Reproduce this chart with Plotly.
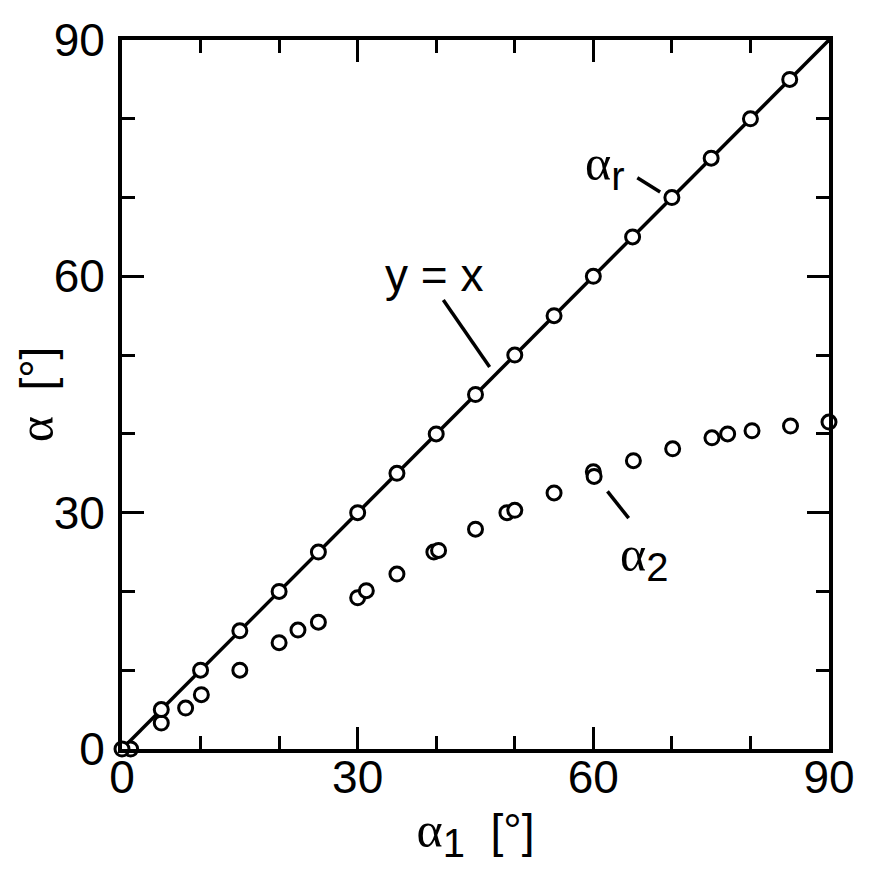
import plotly.graph_objects as go

# data
ar_x = [0, 5, 10, 15, 20, 25, 30, 35, 40, 45, 50, 55, 60, 65, 70, 75, 80, 85]
ar_y = [0, 5, 10, 15, 20, 25, 30, 35, 40, 45, 50, 55, 60, 65, 70, 75, 80, 85]
a2_x = [1.1, 5, 8.1, 10.1, 15, 20, 22.4, 25, 30, 31.1, 35, 39.7, 40.3, 45, 49, 50, 55, 60, 60.1, 65.1, 70.1, 75.1, 77.1, 80.2, 85.1, 90]
a2_y = [0, 3.3, 5.2, 6.9, 10, 13.5, 15.1, 16.1, 19.2, 20.1, 22.2, 25.0, 25.2, 27.9, 30.0, 30.3, 32.5, 35.2, 34.6, 36.6, 38.1, 39.5, 40.0, 40.4, 41.0, 41.5]
line_x = [0, 90]
line_y = [0, 90]
ticks = [0, 30, 60, 90]

SANS = "Liberation Sans, Arial, Helvetica"
SERIF = "Liberation Serif, Times New Roman"
FS = 46
A = f'<span style="font-family:{SERIF};font-size:50px">α</span>'


def sub(t):
    return f'<sub><span style="font-size:40px">{t}</span></sub>'


fig = go.Figure()
fig.add_trace(go.Scatter(x=line_x, y=line_y, mode="lines",
                         line=dict(color="black", width=3.5), showlegend=False,
                         hoverinfo="skip"))
marker = dict(symbol="circle", size=14, color="white",
              line=dict(color="black", width=3))
fig.add_trace(go.Scatter(x=a2_x, y=a2_y, mode="markers", marker=marker,
                         showlegend=False, cliponaxis=False))
fig.add_trace(go.Scatter(x=ar_x, y=ar_y, mode="markers", marker=marker,
                         showlegend=False, cliponaxis=False))

axis_common = dict(range=[0, 90], tickvals=ticks, ticktext=[str(t) for t in ticks],
                   automargin=False,
                   ticks="inside", ticklen=22, tickwidth=3, tickcolor="black",
                   showline=True, linewidth=4, linecolor="black", mirror="ticks",
                   showgrid=False, zeroline=False,
                   tickfont=dict(family=SANS, size=FS, color="black"),
                   minor=dict(tickvals=[10, 20, 40, 50, 70, 80], ticks="inside",
                              ticklen=13, tickwidth=3, tickcolor="black"))

fig.update_layout(
    width=863, height=872,
    margin=dict(l=114, r=42, t=32, b=131),
    plot_bgcolor="white", paper_bgcolor="white",
    xaxis=dict(**axis_common, ticklabelstandoff=-15,
               title=dict(text=f"{A}{sub('1')}  [°]", standoff=14,
                          font=dict(family=SANS, size=FS, color="black"))),
    yaxis=dict(**axis_common, ticklabelstandoff=4,
               title=dict(text=f"{A}  [°]", standoff=16,
                          font=dict(family=SANS, size=FS, color="black"))),
)

ann_font = dict(family=SANS, size=FS, color="black")
fig.add_annotation(x=39.7, y=60.2, text="y = x", showarrow=False, font=ann_font)
fig.add_annotation(x=61.5, y=74.0, text=f"{A}{sub('r')}", showarrow=False, font=ann_font)
fig.add_annotation(x=66.5, y=24.3, text=f"{A}{sub('2')}", showarrow=False, font=ann_font)

leaders = [((40.9, 57.0), (46.8, 48.5)),
           ((65.6, 72.5), (68.5, 70.7)),
           ((61.8, 32.7), (64.5, 29.3))]
for (x0, y0), (x1, y1) in leaders:
    fig.add_shape(type="line", x0=x0, y0=y0, x1=x1, y1=y1, xref="x", yref="y",
                  line=dict(color="black", width=3.5))

fig.write_html("out.html")
